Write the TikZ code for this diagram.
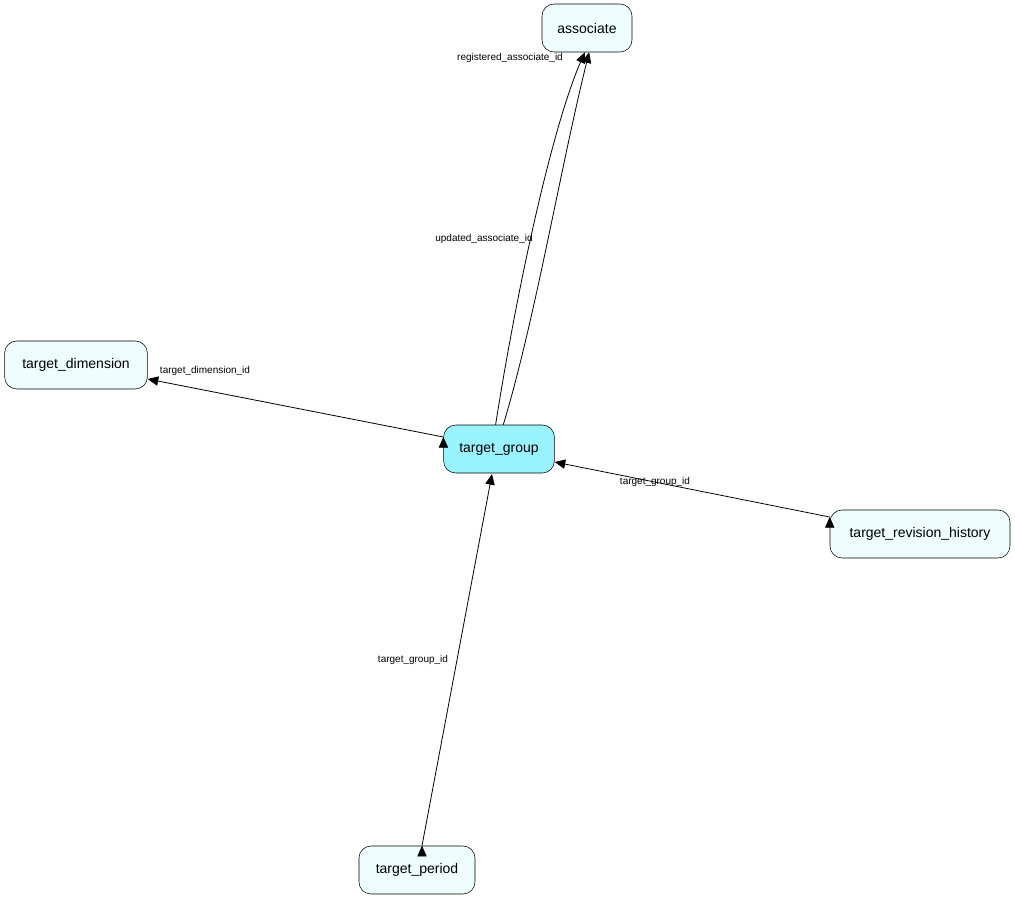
\documentclass[tikz,border=0pt]{standalone}
\usepackage{fontspec}
\setmainfont{Liberation Sans}
\usetikzlibrary{arrows.meta}
\definecolor{lightfill}{HTML}{EEFEFE}
\definecolor{mainfill}{HTML}{99F3FF}
\begin{document}
\begin{tikzpicture}[x=0.75pt,y=-0.75pt,
  tbl/.style={draw,rounded corners=9pt,fill=lightfill,minimum height=36pt,inner sep=0pt,font=\fontsize{10.5}{12}\selectfont},
  lbl/.style={font=\fontsize{7.5}{9}\selectfont,inner sep=1pt},
  fk/.style={-{Triangle[length=8pt,width=7pt]},semithick}]
\useasboundingbox (0,0) rectangle (1015,901);
\node[tbl,minimum width=67.5pt] (as) at (587,28) {associate};
\node[tbl,minimum width=107pt] (td) at (76,365) {target\_dimension};
\node[tbl,minimum width=83pt,fill=mainfill] (tg) at (499,449) {target\_group};
\node[tbl,minimum width=135pt] (tr) at (920,534) {target\_revision\_history};
\node[tbl,minimum width=87pt] (tp) at (417,870) {target\_period};
\draw[fk] (tg.north) ++(0,0) coordinate (a1) (tg.98) .. controls (520,270) and (555,120) .. (as.-95);
\draw[fk] (tg.80) .. controls (535,320) and (560,170) .. (as.-85);
\node[lbl] at (510,58) {registered\_associate\_id};
\node[lbl] at (484,239) {updated\_associate\_id};
\draw[fk] (tg.west) ++(0,-12) coordinate (b1);
\draw[fk] (b1) -- (td.east |- 0,379);
\node[lbl] at (205,371) {target\_dimension\_id};
\draw[fk] (tr.west) ++(0,-17) coordinate (c1);
\draw[fk] (c1) -- (tg.east |- 0,462);
\node[lbl] at (655,482) {target\_group\_id};
\draw[fk] (tp.north) ++(5,0) coordinate (d1);
\draw[fk] (d1) -- (492,474);
\node[lbl] at (413,660) {target\_group\_id};
\end{tikzpicture}
\end{document}
